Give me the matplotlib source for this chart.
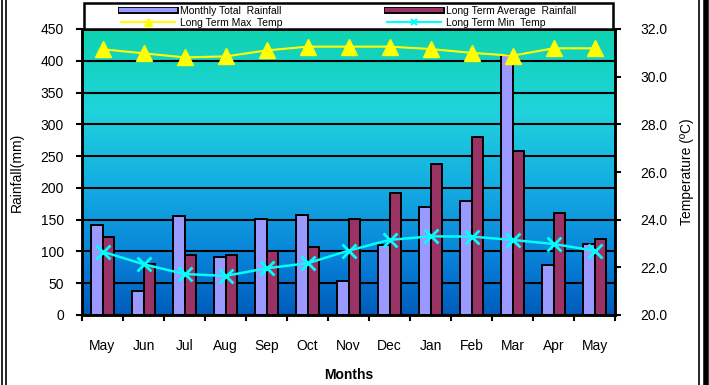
import numpy as np
import matplotlib
matplotlib.use("Agg")
import matplotlib.pyplot as plt
from matplotlib.colors import LinearSegmentedColormap
from matplotlib.lines import Line2D
from matplotlib.patches import Rectangle
import matplotlib.patheffects as pe

plt.rcParams['font.family'] = ['Liberation Sans', 'DejaVu Sans']

months = ["May", "Jun", "Jul", "Aug", "Sep", "Oct", "Nov", "Dec",
          "Jan", "Feb", "Mar", "Apr", "May"]
monthly_rain = [142, 38, 155, 92, 151, 158, 54, 110, 170, 179, 409, 79, 111]
avg_rain = [123, 80, 95, 95, 101, 107, 151, 192, 237, 280, 258, 161, 120]
max_temp = [31.15, 30.98, 30.81, 30.85, 31.1, 31.26, 31.26, 31.26, 31.16,
            31.0, 30.88, 31.19, 31.19]
min_temp = [22.66, 22.13, 21.72, 21.64, 21.96, 22.17, 22.7, 23.15, 23.3,
            23.29, 23.15, 22.98, 22.7]
rain_ticks = list(range(0, 451, 50))
temp_ticks = [20.0, 22.0, 24.0, 26.0, 28.0, 30.0, 32.0]

W, H = 709, 385
fig = plt.figure(figsize=(W / 100, H / 100), dpi=100)
fig.patch.set_facecolor("white")

left, right, top, bottom = 82, 615, 29, 315
ax = fig.add_axes([left / W, 1 - bottom / H, (right - left) / W, (bottom - top) / H])

# vertical gradient background
cmap = LinearSegmentedColormap.from_list("bg", [
    (0.0, (14 / 255, 210 / 255, 176 / 255)),
    (0.28, (32 / 255, 212 / 255, 220 / 255)),
    (0.55, (20 / 255, 172 / 255, 226 / 255)),
    (0.8, (8 / 255, 130 / 255, 216 / 255)),
    (1.0, (0 / 255, 92 / 255, 188 / 255)),
])
grad = np.linspace(0, 1, 256).reshape(-1, 1)
ax.imshow(grad, cmap=cmap, aspect="auto", extent=[0, 1, 0, 1],
          transform=ax.transAxes, zorder=0, interpolation="bilinear")

x = np.arange(len(months))
bw = 0.29
ax.bar(x - bw / 2, monthly_rain, width=bw, color="#9999FF", edgecolor="black",
       linewidth=1.4, zorder=2)
ax.bar(x + bw / 2, avg_rain, width=bw, color="#993366", edgecolor="black",
       linewidth=1.4, zorder=2)

ax.set_xlim(-0.5, len(months) - 0.5)
ax.set_ylim(0, 450)
ax.set_yticks(rain_ticks)
ax.set_yticklabels([str(v) for v in rain_ticks], fontsize=10)
ax.yaxis.grid(True, color="black", linewidth=1.5, zorder=1)
ax.set_axisbelow(True)

ax.set_xticks(np.arange(-0.5, len(months), 1.0))
ax.set_xticklabels([])
ax.set_xticks(x, minor=True)
ax.set_xticklabels(months, minor=True, fontsize=10)
ax.tick_params(axis="x", which="major", direction="out", length=4, width=1.5)
ax.tick_params(axis="x", which="minor", length=0, pad=17)
ax.tick_params(axis="y", direction="out", length=4, width=1.5, pad=9)
for s in ax.spines.values():
    s.set_linewidth(1.8)

ax.set_ylabel("Rainfall(mm)", fontsize=10, labelpad=12)
ax.set_xlabel("Months", fontsize=10, fontweight="bold", labelpad=11)

ax2 = ax.twinx()
ax2.set_ylim(20.0, 32.0)
ax2.set_yticks(temp_ticks)
ax2.set_yticklabels([f"{v:.1f}" for v in temp_ticks], fontsize=10)
ax2.tick_params(axis="y", direction="out", length=4, width=1.5, pad=14)
for s in ax2.spines.values():
    s.set_linewidth(1.8)
ax2.set_ylabel("Temperature (ºC)", fontsize=10, labelpad=9)

ax2.plot(x, max_temp, color="#FFFF00", linewidth=1.5, marker="^",
         markersize=11, markerfacecolor="#FFFF00", markeredgecolor="#FFFF00",
         zorder=3)
ax2.plot(x, min_temp, color="#00FFFF", linewidth=1.8, marker="x",
         markersize=10, markeredgewidth=2, zorder=3)

# legend box spanning above the plot area
fig.add_artist(Rectangle((84 / W, 1 - 29 / H), 529 / W, 26 / H,
                         transform=fig.transFigure, facecolor="white",
                         edgecolor="black", linewidth=1.8, zorder=5))

outline = [pe.Stroke(linewidth=5, foreground="black"), pe.Normal()]
h_monthly = Line2D([], [], color="#9999FF", linewidth=3, path_effects=outline)
h_avg = Line2D([], [], color="#993366", linewidth=3, path_effects=outline)
h_max = Line2D([], [], color="#FFFF00", linewidth=1.5, marker="^", markersize=6)
h_min = Line2D([], [], color="#00FFFF", linewidth=1.5, marker="x", markersize=5,
               markeredgewidth=1.5)

leg_kw = dict(loc="upper left", fontsize=7.5, frameon=False, handlelength=5.2,
              numpoints=1, labelspacing=0.2, borderpad=0, borderaxespad=0,
              handletextpad=0.5)
leg1 = fig.legend([h_monthly, h_max],
                  ["Monthly Total  Rainfall", "Long Term Max  Temp"],
                  bbox_to_anchor=(121 / W, 1 - 5.5 / H), **leg_kw)
leg2 = fig.legend([h_avg, h_min],
                  ["Long Term Average  Rainfall", "Long Term Min  Temp"],
                  bbox_to_anchor=(387 / W, 1 - 5.5 / H), **leg_kw)
leg1.set_zorder(6)
leg2.set_zorder(6)

# page frame
for xp, lw in [(1.5, 1.2), (5.5, 1.2), (698.5, 1.2), (705.5, 4.0)]:
    fig.add_artist(Line2D([xp / W, xp / W], [0, 1], color="black",
                          linewidth=lw, transform=fig.transFigure))

fig.savefig("out.png", dpi=100)
